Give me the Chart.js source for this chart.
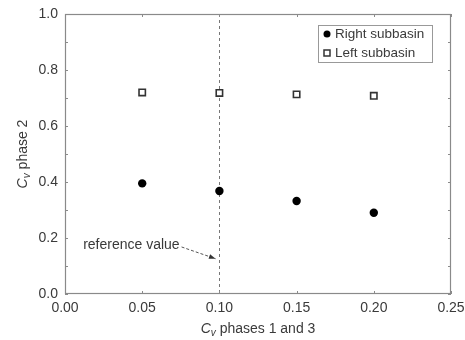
<!DOCTYPE html>
<html>
<head>
<meta charset="utf-8">
<script src="https://cdn.jsdelivr.net/npm/chart.js@4.4.1/dist/chart.umd.min.js"></script>
<style>
  html, body { margin: 0; padding: 0; background: #fff; }
  #wrap { width: 465px; height: 340px; }
</style>
</head>
<body>
<div id="wrap"><canvas id="chart-area" width="465" height="340"></canvas></div>
<script>
// data
var cvPhases13 = [0.05, 0.10, 0.15, 0.20];
var rightSubbasin = [0.395, 0.368, 0.332, 0.290];
var leftSubbasin = [0.720, 0.718, 0.713, 0.708];
var xTicks = [0.00, 0.05, 0.10, 0.15, 0.20, 0.25];
var yTicks = [0.0, 0.2, 0.4, 0.6, 0.8, 1.0];
var refValue = 0.10;

var FONT = "'Liberation Sans', Arial, sans-serif";
var TXT = '#3a3a3a';
var AXIS = '#8a8a8a';

function points(xs, ys){
  return xs.map(function(x, i){ return {x: x, y: ys[i]}; });
}

// box, inward ticks, reference line, legend, titles
var decor = {
  id: 'decor',
  beforeDatasetsDraw: function(chart){
    var ctx = chart.ctx, a = chart.chartArea, xs = chart.scales.x;
    var px = xs.getPixelForValue(refValue);
    ctx.save();
    ctx.strokeStyle = '#777';
    ctx.lineWidth = 1;
    ctx.setLineDash([3, 3]);
    ctx.beginPath();
    ctx.moveTo(Math.round(px) + 0.5, a.top);
    ctx.lineTo(Math.round(px) + 0.5, a.bottom);
    ctx.stroke();
    ctx.restore();
  },
  afterDraw: function(chart){
    var ctx = chart.ctx, a = chart.chartArea;
    var xs = chart.scales.x, ys = chart.scales.y;
    ctx.save();
    // frame
    ctx.strokeStyle = AXIS;
    ctx.lineWidth = 1.2;
    ctx.strokeRect(a.left + 0.5, a.top + 0.5, a.right - a.left - 1, a.bottom - a.top - 1);
    // ticks
    ctx.lineWidth = 1;
    ctx.beginPath();
    xTicks.forEach(function(v){
      var p = Math.round(xs.getPixelForValue(v)) + 0.5;
      ctx.moveTo(p, a.bottom); ctx.lineTo(p, a.bottom - 3);
      ctx.moveTo(p, a.top); ctx.lineTo(p, a.top + 3);
    });
    for (var k = 0; k <= 10; k++){
      var p = Math.round(ys.getPixelForValue(k / 10)) + 0.5;
      ctx.moveTo(a.left, p); ctx.lineTo(a.left + 3, p);
      ctx.moveTo(a.right, p); ctx.lineTo(a.right - 3, p);
    }
    ctx.stroke();

    // annotation
    ctx.fillStyle = TXT;
    ctx.font = '14px ' + FONT;
    ctx.textAlign = 'center';
    ctx.textBaseline = 'middle';
    ctx.fillText('reference value', xs.getPixelForValue(0.043), ys.getPixelForValue(0.175));
    var x0 = xs.getPixelForValue(0.0755), y0 = ys.getPixelForValue(0.168);
    var x1 = xs.getPixelForValue(0.0975), y1 = ys.getPixelForValue(0.126);
    ctx.strokeStyle = '#555';
    ctx.setLineDash([3, 2]);
    ctx.beginPath(); ctx.moveTo(x0, y0); ctx.lineTo(x1, y1); ctx.stroke();
    ctx.setLineDash([]);
    var ang = Math.atan2(y1 - y0, x1 - x0);
    ctx.fillStyle = '#333';
    ctx.beginPath();
    ctx.moveTo(x1, y1);
    ctx.lineTo(x1 - 7 * Math.cos(ang - 0.35), y1 - 7 * Math.sin(ang - 0.35));
    ctx.lineTo(x1 - 7 * Math.cos(ang + 0.35), y1 - 7 * Math.sin(ang + 0.35));
    ctx.closePath();
    ctx.fill();

    // legend box
    var lx = 318, ly = 25, lw = 114, lh = 37;
    ctx.strokeStyle = '#999';
    ctx.lineWidth = 1;
    ctx.strokeRect(lx + 0.5, ly + 0.5, lw, lh);
    chart.data.datasets.forEach(function(ds, i){
      var cy = ly + 9 + i * 19;
      if (ds.pointStyle === 'circle'){
        ctx.fillStyle = ds.backgroundColor;
        ctx.beginPath(); ctx.arc(lx + 9, cy, 3.5, 0, Math.PI * 2); ctx.fill();
      } else {
        ctx.fillStyle = '#fff';
        ctx.strokeStyle = ds.borderColor;
        ctx.lineWidth = 1.5;
        ctx.fillRect(lx + 6, cy - 3, 6, 6);
        ctx.strokeRect(lx + 6, cy - 3, 6, 6);
      }
      ctx.fillStyle = TXT;
      ctx.font = '13.5px ' + FONT;
      ctx.textAlign = 'left';
      ctx.fillText(ds.label, lx + 17, cy + 0.5);
    });

    // axis titles with subscript
    function cvTitle(rest, cx, cy){
      ctx.font = 'italic 14px ' + FONT;
      var w1 = ctx.measureText('C').width;
      ctx.font = 'italic 10px ' + FONT;
      var w2 = ctx.measureText('v').width;
      ctx.font = '14px ' + FONT;
      var w3 = ctx.measureText(' ' + rest).width;
      var x = cx - (w1 + w2 + w3) / 2;
      ctx.textAlign = 'left';
      ctx.fillStyle = TXT;
      ctx.font = 'italic 14px ' + FONT;
      ctx.fillText('C', x, cy);
      ctx.font = 'italic 10px ' + FONT;
      ctx.fillText('v', x + w1, cy + 4);
      ctx.font = '14px ' + FONT;
      ctx.fillText(' ' + rest, x + w1 + w2, cy);
    }
    cvTitle('phases 1 and 3', (a.left + a.right) / 2, 329);
    ctx.save();
    ctx.translate(23, (a.top + a.bottom) / 2);
    ctx.rotate(-Math.PI / 2);
    cvTitle('phase 2', 0, 0);
    ctx.restore();
    ctx.restore();
  }
};

var config = {
  type: 'scatter',
  data: {
    datasets: [{
      label: 'Right subbasin',
      data: points(cvPhases13, rightSubbasin),
      pointStyle: 'circle',
      pointRadius: 4.2,
      backgroundColor: '#000',
      borderColor: '#000',
      borderWidth: 0
    }, {
      label: 'Left subbasin',
      data: points(cvPhases13, leftSubbasin),
      pointStyle: 'rect',
      pointRadius: 4.5,
      backgroundColor: '#fff',
      borderColor: '#333',
      borderWidth: 1.6
    }]
  },
  options: {
    responsive: false,
    animation: false,
    layout: { padding: { left: 0, top: 14, right: 14, bottom: 0 } },
    plugins: { legend: { display: false }, tooltip: { enabled: false } },
    scales: {
      x: {
        type: 'linear', min: 0, max: 0.25,
        afterBuildTicks: function(s){ s.ticks = xTicks.map(function(v){ return {value: v}; }); },
        afterFit: function(s){ s.height = 46; s.paddingLeft = 0; s.paddingRight = 0; },
        grid: { display: false, drawTicks: false },
        border: { display: false },
        ticks: {
          padding: 6, color: TXT, font: { family: FONT, size: 14 },
          maxRotation: 0, autoSkip: false,
          callback: function(v){ return Number(v).toFixed(2); }
        }
      },
      y: {
        type: 'linear', min: 0, max: 1,
        afterBuildTicks: function(s){ s.ticks = yTicks.map(function(v){ return {value: v}; }); },
        afterFit: function(s){ s.width = 65; s.paddingTop = 0; s.paddingBottom = 0; },
        grid: { display: false, drawTicks: false },
        border: { display: false },
        ticks: {
          padding: 7, color: TXT, font: { family: FONT, size: 14 },
          autoSkip: false,
          callback: function(v){ return Number(v).toFixed(1); }
        }
      }
    }
  },
  plugins: [decor]
};

var ctx = document.getElementById('chart-area').getContext('2d');
window.myScatter = new Chart(ctx, config);
</script>
</body>
</html>
